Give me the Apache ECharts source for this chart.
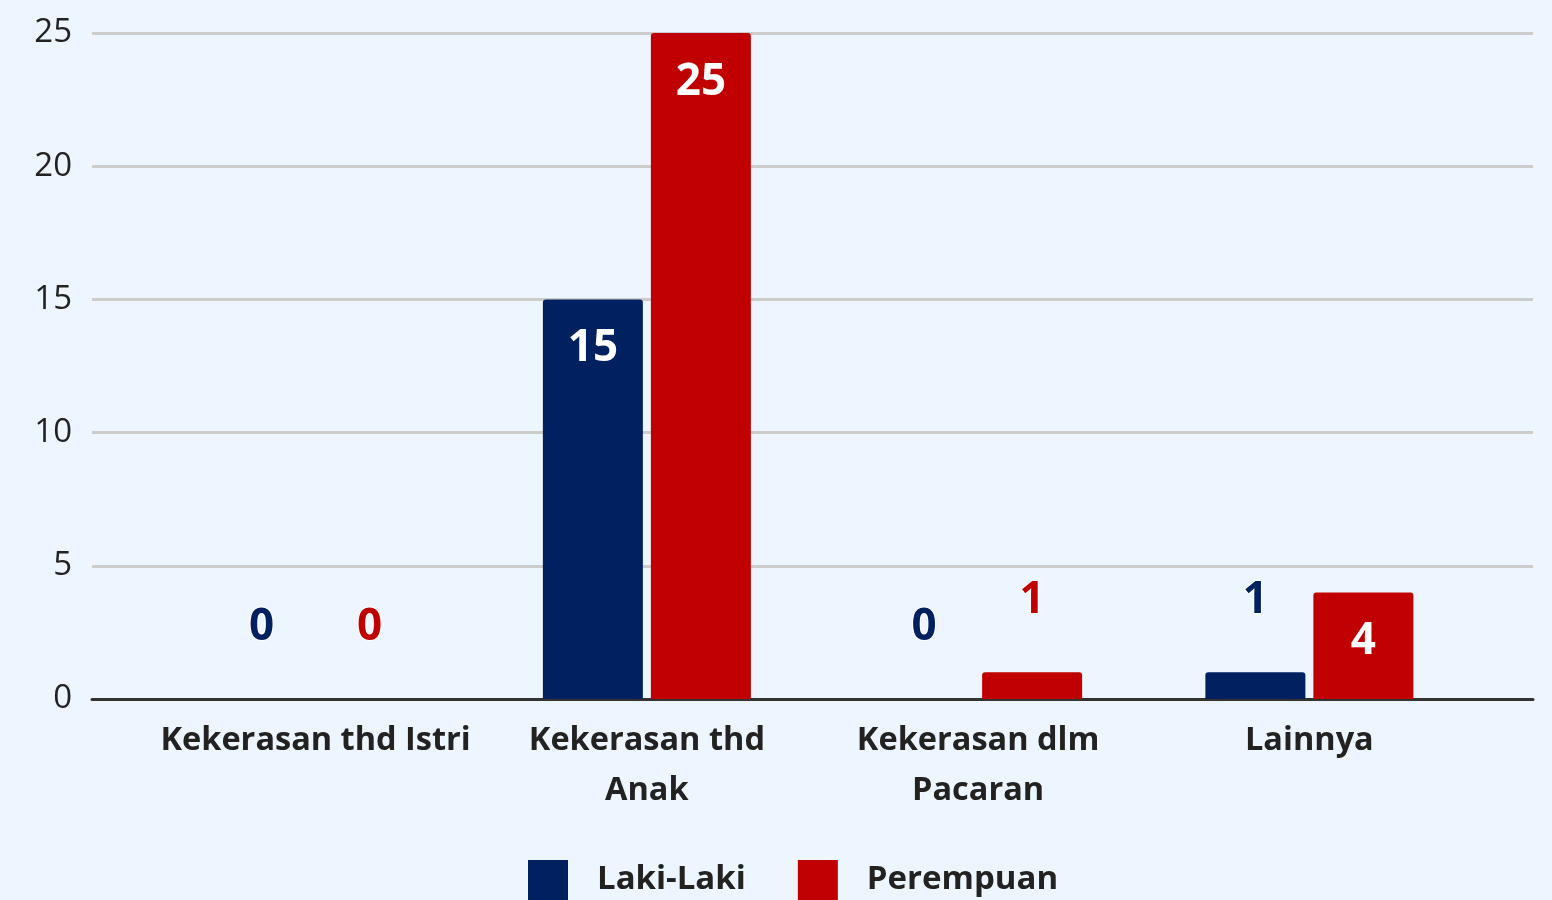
<!DOCTYPE html>
<html>
<head>
<meta charset="utf-8">
<script src="https://cdn.jsdelivr.net/npm/echarts@6/dist/echarts.min.js"></script>
<style>
  html, body { margin: 0; padding: 0; background: #edf6ff; }
  #chart { width: 1552px; height: 900px; }
</style>
</head>
<body>
<div id="chart"></div>
<script>
const categories = ["Kekerasan thd Istri", "Kekerasan thd\nAnak", "Kekerasan dlm\nPacaran", "Lainnya"];
const lakiLaki = [0, 15, 0, 1];
const perempuan = [0, 25, 1, 4];
const seriesNames = ["Laki-Laki", "Perempuan"];
const yTicks = { min: 0, max: 25, interval: 5 };

const navy = "#002060";
const red = "#c00000";

const myChart = echarts.init(document.getElementById("chart"));

// small bars get their label above in series colour, big ones inside in white
const makeData = (values, color) => values.map(v => {
    if (v <= 1) {
        return {
            value: v,
            label: {
                position: "top",
                distance: 50,
                color: color,
                textBorderColor: "#ffffff",
                textBorderWidth: 2
            }
        };
    }
    return { value: v, label: { position: "insideTop", distance: 27, color: "#ffffff" } };
});

const barLabel = {
    show: true,
    fontSize: 44,
    fontWeight: "bold",
    fontFamily: "Open Sans"
};

const option = {
    backgroundColor: "#edf6ff",
    textStyle: { fontFamily: "Open Sans" },
    animation: false,
    grid: [
        { left: 92, right: 19, top: 33, bottom: 201 },
        { left: 150, right: 77, top: 33, bottom: 201 }
    ],
    legend: {
        data: seriesNames,
        bottom: 0,
        left: 528,
        padding: 0,
        icon: "rect",
        itemWidth: 40,
        itemHeight: 40,
        itemGap: 52,
        textStyle: {
            fontSize: 33,
            fontWeight: "bold",
            color: "#222",
            padding: [0, 0, 0, 24]
        }
    },
    xAxis: [{
        gridIndex: 0,
        type: "value",
        min: 0,
        max: 1,
        axisLine: { show: true, onZero: false, lineStyle: { color: "#333", width: 3 } },
        axisTick: { show: false },
        axisLabel: { show: false },
        splitLine: { show: false }
    }, {
        gridIndex: 1,
        type: "category",
        data: categories,
        axisLine: { show: false },
        axisTick: { show: false },
        axisLabel: {
            margin: 17,
            fontSize: 32.5,
            fontWeight: "bold",
            color: "#222",
            lineHeight: 50,
            interval: 0
        }
    }],
    yAxis: [{
        gridIndex: 0,
        type: "value",
        min: yTicks.min,
        max: yTicks.max,
        interval: yTicks.interval,
        axisLine: { show: false },
        axisTick: { show: false },
        axisLabel: { fontSize: 33, color: "#222", margin: 20 },
        splitLine: { lineStyle: { color: "#cccccc", width: 3 } }
    }, {
        gridIndex: 1,
        type: "value",
        min: yTicks.min,
        max: yTicks.max,
        interval: yTicks.interval,
        show: false
    }],
    series: [{
        name: seriesNames[0],
        type: "bar",
        xAxisIndex: 1,
        yAxisIndex: 1,
        barWidth: 100,
        barGap: "8%",
        itemStyle: { color: navy, borderRadius: [3, 3, 0, 0] },
        label: barLabel,
        data: makeData(lakiLaki, navy)
    }, {
        name: seriesNames[1],
        type: "bar",
        xAxisIndex: 1,
        yAxisIndex: 1,
        barWidth: 100,
        barGap: "8%",
        itemStyle: { color: red, borderRadius: [3, 3, 0, 0] },
        label: barLabel,
        data: makeData(perempuan, red)
    }]
};

myChart.setOption(option);
</script>
</body>
</html>
